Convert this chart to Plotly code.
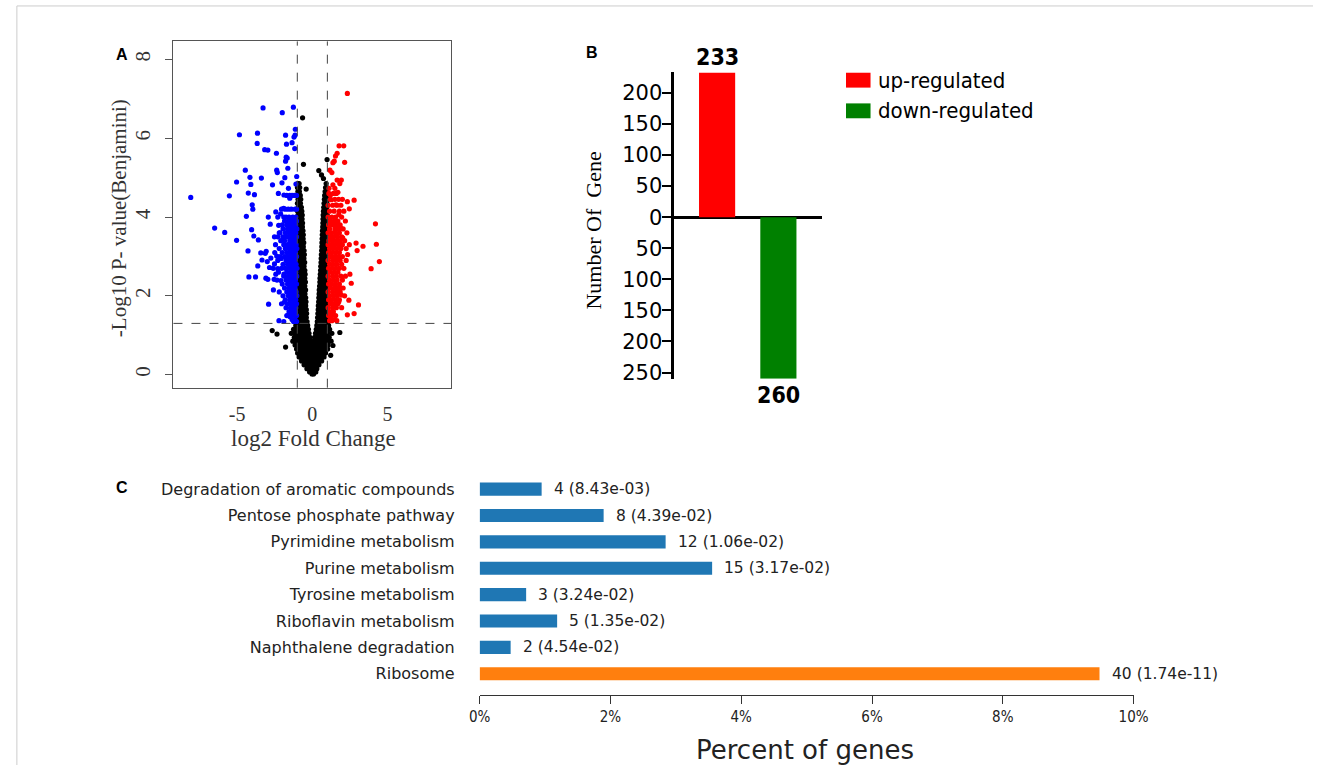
import plotly.graph_objects as go

W, H = 1328, 771

# ---------------- Panel A: volcano plot data (log2FC, -log10 adj p) ----------------
down_pts = [
    (-8.09, 4.50), (-6.50, 3.72), (-5.83, 3.61), (-5.52, 4.54), (-5.04, 4.89), (-5.04, 3.41),
    (-4.85, 6.09), (-4.46, 5.19), (-4.39, 4.02), (-4.28, 3.14), (-4.26, 4.61), (-4.22, 2.48),
    (-4.15, 5.01), (-4.09, 4.83), (-4.04, 3.68), (-4.00, 4.31), (-3.96, 4.20), (-3.89, 3.52),
    (-3.85, 4.57), (-3.78, 2.48), (-3.65, 6.13), (-3.67, 5.87), (-3.59, 3.42), (-3.63, 2.76),
    (-3.43, 3.09), (-3.39, 4.99), (-3.35, 2.91), (-3.28, 6.77), (-3.17, 5.71), (-3.13, 3.08),
    (-3.07, 3.13), (-3.09, 2.45), (-3.00, 2.87), (-2.96, 5.70), (-2.96, 2.42), (-2.93, 4.00),
    (-2.91, 1.79), (-2.85, 2.72), (-2.80, 3.82), (-2.76, 2.96), (-2.65, 4.82), (-2.59, 2.15),
    (-2.54, 2.42), (-2.52, 3.50), (-2.52, 2.81), (-2.43, 4.13), (-2.43, 2.55), (-2.39, 5.62),
    (-2.37, 5.19), (-2.37, 3.01), (-2.33, 5.13), (-2.30, 2.69), (-2.24, 3.79), (-2.22, 1.37),
    (-2.26, 4.60), (-2.15, 3.60), (-2.11, 4.08), (-2.09, 2.39), (-2.07, 2.95), (-2.00, 6.65),
    (-2.02, 4.87), (-1.96, 3.50), (-1.91, 4.22), (-1.89, 4.56), (-1.89, 2.55), (-1.85, 1.84),
    (-1.83, 5.00), (-1.78, 6.08), (-1.78, 5.42), (-1.72, 5.85), (-1.74, 5.52), (-1.67, 5.50),
    (-1.63, 5.24), (-1.59, 4.73), (-1.57, 1.52), (-1.50, 4.48), (-1.48, 1.47), (-1.46, 3.45),
    (-1.39, 3.89), (-1.35, 5.89), (-1.26, 6.79), (-1.22, 6.03), (-1.15, 6.08), (-1.13, 6.23),
    (-1.17, 5.74), (-1.09, 4.84), (-1.04, 5.03),
]
down_rows = [
    (4.55, [-1.70, -1.50, -1.35, -1.20, -1.05]),
    (4.20, [-2.05, -1.80, -1.60, -1.40, -1.15, -1.05]),
    (4.00, [-2.30, -1.90, -1.75, -1.55, -1.30, -1.10]),
    (3.90, [-1.85, -1.60, -1.45, -1.25, -1.05]),
    (3.80, [-2.00, -1.70, -1.50, -1.35, -1.20, -1.10]),
    (3.70, [-1.95, -1.65, -1.45, -1.30, -1.15, -1.03]),
    (3.60, [-2.20, -1.80, -1.55, -1.40, -1.25, -1.10]),
    (3.50, [-2.30, -1.75, -1.60, -1.35, -1.20, -1.05]),
    (3.40, [-2.10, -1.85, -1.50, -1.30, -1.15]),
    (3.30, [-2.45, -1.90, -1.65, -1.45, -1.25, -1.08]),
    (3.20, [-2.20, -1.80, -1.55, -1.35, -1.18, -1.03]),
    (3.10, [-2.50, -2.00, -1.70, -1.48, -1.28, -1.12]),
    (3.00, [-2.15, -1.85, -1.60, -1.40, -1.20, -1.05]),
    (2.90, [-2.30, -1.75, -1.50, -1.32, -1.15]),
    (2.80, [-1.95, -1.65, -1.45, -1.25, -1.08]),
    (2.70, [-2.60, -2.05, -1.80, -1.55, -1.35, -1.15, -1.02]),
    (2.60, [-2.25, -1.70, -1.45, -1.25, -1.10]),
    (2.50, [-1.90, -1.60, -1.38, -1.18, -1.04]),
    (2.40, [-2.35, -1.75, -1.50, -1.30, -1.12]),
    (2.30, [-2.00, -1.65, -1.42, -1.20, -1.05]),
    (2.20, [-1.85, -1.55, -1.33, -1.15]),
    (2.10, [-2.20, -1.70, -1.45, -1.25, -1.08]),
    (2.00, [-1.95, -1.60, -1.38, -1.15, -1.03]),
    (1.90, [-1.80, -1.50, -1.28, -1.10]),
    (1.80, [-2.05, -1.65, -1.40, -1.20, -1.05]),
    (1.70, [-1.75, -1.45, -1.25, -1.10]),
    (1.60, [-1.55, -1.30, -1.12]),
    (1.50, [-1.70, -1.40, -1.18, -1.05]),
    (1.40, [-1.35, -1.15]),
    (1.35, [-1.90, -1.25, -1.05]),
]

up_pts = [
    (2.33, 7.14), (1.78, 5.81), (2.09, 5.81), (1.65, 5.62), (1.54, 5.55), (1.46, 5.42),
    (1.37, 5.38), (2.15, 5.39), (1.17, 5.19), (1.30, 5.13), (1.93, 4.94), (1.65, 4.94),
    (1.83, 4.85), (1.37, 4.82), (1.50, 4.73), (1.11, 4.73), (1.70, 4.63), (1.20, 4.56),
    (2.33, 4.39), (2.78, 4.43), (2.46, 4.21), (1.57, 4.31), (1.26, 4.44), (1.76, 4.06),
    (4.20, 3.83), (1.41, 3.85), (1.89, 3.72), (1.15, 3.81), (1.63, 3.55), (2.02, 3.47),
    (2.91, 3.34), (3.37, 3.26), (4.26, 3.31), (2.46, 3.30), (2.98, 3.15), (2.35, 3.05),
    (1.35, 3.22), (4.46, 2.87), (3.91, 2.69), (2.50, 2.55), (2.59, 2.32), (1.85, 2.21),
    (1.93, 2.02), (1.76, 1.85), (2.43, 1.89), (3.07, 1.77), (2.78, 1.55), (2.33, 1.52),
    (1.63, 1.37), (1.15, 1.37), (1.30, 1.37),
]
up_rows = [
    (4.60, [1.10, 1.40, 1.60]),
    (4.45, [1.20, 1.50, 1.75, 2.00]),
    (4.30, [1.05, 1.35, 1.65, 1.90]),
    (4.15, [1.15, 1.45, 1.80, 2.10]),
    (4.00, [1.05, 1.30, 1.55, 1.95]),
    (3.90, [1.20, 1.45, 1.70, 2.20]),
    (3.80, [1.08, 1.35, 1.60, 1.85]),
    (3.70, [1.15, 1.50, 1.75, 2.05]),
    (3.60, [1.05, 1.30, 1.55, 1.80, 2.30]),
    (3.50, [1.20, 1.42, 1.68, 1.95]),
    (3.40, [1.10, 1.35, 1.60, 1.85, 2.15]),
    (3.30, [1.05, 1.25, 1.50, 1.75, 2.00]),
    (3.20, [1.15, 1.40, 1.65, 1.90, 2.25]),
    (3.10, [1.08, 1.30, 1.55, 1.80]),
    (3.00, [1.20, 1.45, 1.70, 2.00]),
    (2.90, [1.05, 1.35, 1.60, 1.85, 2.25]),
    (2.80, [1.15, 1.40, 1.65, 1.95]),
    (2.70, [1.08, 1.30, 1.55, 1.80, 2.10]),
    (2.60, [1.20, 1.45, 1.70]),
    (2.50, [1.05, 1.35, 1.60, 1.90, 2.20]),
    (2.40, [1.15, 1.40, 1.65, 2.00]),
    (2.30, [1.08, 1.30, 1.55, 1.80]),
    (2.20, [1.20, 1.45, 1.70, 2.05]),
    (2.10, [1.05, 1.35, 1.60, 1.85]),
    (2.00, [1.15, 1.40, 1.65, 2.15]),
    (1.90, [1.08, 1.30, 1.55, 1.80]),
    (1.80, [1.20, 1.45, 1.70]),
    (1.70, [1.05, 1.35, 1.60, 1.95]),
    (1.60, [1.15, 1.40]),
    (1.50, [1.08, 1.30, 1.55]),
    (1.40, [1.20, 1.45]),
]

ns_pts = [
    (-0.65, 6.52), (-0.59, 5.34), (-0.41, 4.71), (0.98, 5.46), (0.43, 5.18), (0.61, 5.07),
    (0.74, 4.98), (-2.67, 1.12), (-2.35, 1.03), (-1.78, 0.70), (1.83, 1.07), (1.22, 0.49),
    (1.37, 0.74),
]
ns_rows = [
    (4.85, [-0.97, -0.88, 0.92]),
    (4.75, [-0.99, -0.90, -0.84, 0.88, 0.97]),
    (4.65, [-0.96, -0.86, 0.85, 0.95]),
    (4.55, [-0.98, -0.88, -0.80, 0.82, 0.92, 0.99]),
    (4.45, [-0.95, -0.85, -0.77, 0.80, 0.90, 0.98]),
    (4.35, [-0.99, -0.89, -0.79, 0.78, 0.88, 0.97]),
    (4.25, [-0.94, -0.84, -0.73, 0.76, 0.86, 0.95]),
    (4.15, [-0.98, -0.88, -0.78, -0.70, 0.74, 0.84, 0.94]),
    (4.05, [-0.95, -0.84, -0.74, -0.67, 0.72, 0.82, 0.92, 0.99]),
    (3.95, [-0.99, -0.89, -0.78, -0.68, 0.71, 0.80, 0.90, 0.98]),
    (3.85, [-0.94, -0.84, -0.74, -0.65, 0.70, 0.79, 0.88, 0.97]),
    (3.75, [-0.98, -0.88, -0.77, -0.66, 0.69, 0.78, 0.87, 0.96]),
    (3.65, [-0.95, -0.84, -0.73, -0.62, 0.67, 0.76, 0.86, 0.95]),
    (3.55, [-0.99, -0.89, -0.78, -0.67, -0.60, 0.66, 0.75, 0.85, 0.94]),
    (3.45, [-0.94, -0.83, -0.72, -0.61, 0.65, 0.74, 0.84, 0.93, 0.99]),
    (3.35, [-0.98, -0.87, -0.76, -0.65, -0.57, 0.64, 0.73, 0.83, 0.92]),
    (3.25, [-0.93, -0.82, -0.71, -0.60, 0.63, 0.72, 0.82, 0.91, 0.98]),
    (3.15, [-0.99, -0.88, -0.77, -0.66, -0.55, 0.62, 0.71, 0.80, 0.90]),
    (3.05, [-0.94, -0.83, -0.72, -0.61, -0.53, 0.60, 0.69, 0.79, 0.88, 0.97]),
    (2.95, [-0.98, -0.87, -0.76, -0.65, -0.56, 0.59, 0.68, 0.78, 0.87, 0.96]),
    (2.85, [-0.93, -0.82, -0.71, -0.60, -0.51, 0.58, 0.67, 0.77, 0.86, 0.95]),
    (2.75, [-0.99, -0.88, -0.77, -0.66, -0.55, 0.56, 0.65, 0.75, 0.85, 0.94]),
    (2.65, [-0.94, -0.83, -0.72, -0.61, -0.50, 0.55, 0.64, 0.74, 0.84, 0.93, 0.99]),
    (2.55, [-0.98, -0.87, -0.76, -0.65, -0.54, -0.48, 0.53, 0.62, 0.72, 0.82, 0.92]),
    (2.45, [-0.93, -0.82, -0.71, -0.60, -0.50, 0.51, 0.60, 0.70, 0.80, 0.90, 0.98]),
    (2.35, [-0.99, -0.88, -0.77, -0.66, -0.55, -0.46, 0.50, 0.59, 0.69, 0.79, 0.89]),
    (2.25, [-0.94, -0.83, -0.72, -0.61, -0.50, 0.48, 0.57, 0.67, 0.77, 0.87, 0.97]),
    (2.15, [-0.98, -0.87, -0.76, -0.65, -0.54, -0.45, 0.46, 0.55, 0.65, 0.75, 0.85, 0.95]),
    (2.05, [-0.93, -0.82, -0.71, -0.60, -0.49, 0.45, 0.54, 0.64, 0.74, 0.84, 0.94]),
    (1.95, [-0.99, -0.88, -0.77, -0.66, -0.55, -0.44, 0.43, 0.52, 0.62, 0.72, 0.82, 0.92, 0.99]),
    (1.85, [-0.94, -0.83, -0.72, -0.61, -0.50, -0.42, 0.42, 0.51, 0.61, 0.71, 0.81, 0.91]),
    (1.75, [-0.98, -0.87, -0.76, -0.65, -0.54, -0.44, 0.40, 0.49, 0.59, 0.69, 0.79, 0.89, 0.98]),
    (1.65, [-0.93, -0.82, -0.71, -0.60, -0.49, -0.40, 0.39, 0.48, 0.58, 0.68, 0.78, 0.88, 0.97]),
    (1.55, [-0.99, -0.88, -0.77, -0.66, -0.55, -0.44, -0.38, 0.37, 0.46, 0.56, 0.66, 0.76, 0.86, 0.96]),
    (1.45, [-0.94, -0.83, -0.72, -0.61, -0.50, -0.40, 0.35, 0.44, 0.54, 0.64, 0.74, 0.84, 0.94]),
    (1.35, [-0.98, -0.87, -0.76, -0.65, -0.54, -0.43, -0.35, 0.33, 0.42, 0.52, 0.62, 0.72, 0.82, 0.92, 0.99]),
    (1.25, [-1.10, -0.93, -0.82, -0.71, -0.60, -0.49, -0.38, -0.31, 0.30, 0.39, 0.49, 0.59, 0.69, 0.79, 0.89, 0.99, 1.08]),
    (1.15, [-1.25, -0.99, -0.88, -0.77, -0.66, -0.55, -0.44, -0.33, -0.26, 0.26, 0.35, 0.45, 0.55, 0.65, 0.75, 0.85, 0.95, 1.15]),
    (1.05, [-1.40, -1.15, -1.00, -0.89, -0.78, -0.67, -0.56, -0.45, -0.34, -0.22, 0.21, 0.31, 0.41, 0.51, 0.61, 0.71, 0.81, 0.91, 1.02, 1.30]),
    (0.95, [-1.20, -1.05, -0.93, -0.82, -0.71, -0.60, -0.49, -0.38, -0.27, -0.16, 0.15, 0.25, 0.35, 0.45, 0.55, 0.65, 0.75, 0.86, 0.98, 1.12]),
    (0.85, [-1.30, -1.10, -0.97, -0.86, -0.75, -0.64, -0.53, -0.42, -0.31, -0.20, -0.09, 0.02, 0.12, 0.22, 0.32, 0.42, 0.52, 0.62, 0.72, 0.83, 0.95, 1.08, 1.25]),
    (0.75, [-1.15, -1.00, -0.89, -0.78, -0.67, -0.56, -0.45, -0.34, -0.23, -0.12, -0.01, 0.10, 0.20, 0.30, 0.40, 0.50, 0.60, 0.70, 0.81, 0.93, 1.05]),
    (0.65, [-1.05, -0.93, -0.82, -0.71, -0.60, -0.49, -0.38, -0.27, -0.16, -0.05, 0.06, 0.16, 0.26, 0.36, 0.46, 0.56, 0.66, 0.77, 0.89, 1.02]),
    (0.55, [-0.98, -0.86, -0.75, -0.64, -0.53, -0.42, -0.31, -0.20, -0.09, 0.02, 0.12, 0.22, 0.32, 0.42, 0.52, 0.63, 0.75, 0.88]),
    (0.45, [-0.88, -0.76, -0.65, -0.54, -0.43, -0.32, -0.21, -0.10, 0.01, 0.11, 0.21, 0.31, 0.41, 0.52, 0.64, 0.78]),
    (0.35, [-0.72, -0.60, -0.49, -0.38, -0.27, -0.16, -0.05, 0.06, 0.16, 0.26, 0.37, 0.49, 0.62]),
    (0.25, [-0.55, -0.43, -0.32, -0.21, -0.10, 0.01, 0.11, 0.21, 0.32, 0.44]),
    (0.15, [-0.36, -0.24, -0.13, -0.02, 0.09, 0.19, 0.30]),
    (0.07, [-0.18, -0.07, 0.04, 0.14, 0.23]),
    (0.02, [-0.02, 0.08]),
]

fc_cutoff = 1.0
p_cutoff = 1.301  # -log10(0.05)

# ---------------- Panel B: counts ----------------
reg_labels = ["up-regulated", "down-regulated"]
reg_counts = [233, 260]
reg_colors = ["#ff0000", "#008000"]
reg_ticks = [200, 150, 100, 50, 0, -50, -100, -150, -200, -250]

# ---------------- Panel C: KEGG enrichment ----------------
pathways = ["Degradation of aromatic compounds", "Pentose phosphate pathway",
            "Pyrimidine metabolism", "Purine metabolism", "Tyrosine metabolism",
            "Riboflavin metabolism", "Naphthalene degradation", "Ribosome"]
gene_counts = [4, 8, 12, 15, 3, 5, 2, 40]
pct_genes = [0.948, 1.896, 2.844, 3.555, 0.711, 1.185, 0.474, 9.479]
pvalues = ["8.43e-03", "4.39e-02", "1.06e-02", "3.17e-02", "3.24e-02", "1.35e-02",
           "4.54e-02", "1.74e-11"]
pct_ticks = [0, 2, 4, 6, 8, 10]


def flatten(pts, rows):
    xs = [p[0] for p in pts]
    ys = [p[1] for p in pts]
    for y, row in rows:
        for x in row:
            xs.append(x)
            ys.append(y)
    return xs, ys


def fx(px):
    return px / W


def fy(py):
    return 1 - py / H


ns_x, ns_y = flatten(ns_pts, ns_rows)
dn_x, dn_y = flatten(down_pts, down_rows)
up_x, up_y = flatten(up_pts, up_rows)

fig = go.Figure()
msize = 5.2
fig.add_trace(go.Scatter(x=ns_x, y=ns_y, mode="markers", marker=dict(color="#000000", size=msize),
                         xaxis="x", yaxis="y", showlegend=False, hoverinfo="skip"))
fig.add_trace(go.Scatter(x=dn_x, y=dn_y, mode="markers", marker=dict(color="#0000ff", size=msize),
                         xaxis="x", yaxis="y", showlegend=False))
fig.add_trace(go.Scatter(x=up_x, y=up_y, mode="markers", marker=dict(color="#ff0000", size=msize),
                         xaxis="x", yaxis="y", showlegend=False))

# Panel B bars
fig.add_trace(go.Bar(x=[1], y=[reg_counts[0]], width=0.59, marker=dict(color=reg_colors[0], line=dict(width=0)),
                     xaxis="x2", yaxis="y2", showlegend=False))
fig.add_trace(go.Bar(x=[2], y=[-reg_counts[1]], width=0.59, marker=dict(color=reg_colors[1], line=dict(width=0)),
                     xaxis="x2", yaxis="y2", showlegend=False))

# Panel C bars
c_colors = ["#ff7f0e" if p == "Ribosome" else "#1f77b4" for p in pathways]
fig.add_trace(go.Bar(x=pct_genes, y=pathways, orientation="h", width=0.5,
                     marker=dict(color=c_colors, line=dict(width=0)),
                     xaxis="x3", yaxis="y3", showlegend=False))

serif = "Liberation Serif, Times New Roman, serif"
sans = "DejaVu Sans, sans-serif"
cond = "DejaVu Sans Condensed, DejaVu Sans, sans-serif"

fig.update_layout(
    width=W, height=H, autosize=False, margin=dict(l=0, r=0, t=0, b=0),
    paper_bgcolor="white", plot_bgcolor="white", barmode="overlay",
    xaxis=dict(domain=[fx(165.7), fx(449)], range=[-9.24, 9.24], tickvals=[-5, 0, 5],
               ticktext=["-5", "0", "5"], ticks="", showgrid=False, zeroline=False,
               showline=True, mirror=True, linecolor="#555", linewidth=1, ticklabelstandoff=8,
               tickfont=dict(family=serif, size=20, color="#333")),
    yaxis=dict(domain=[fy(390.7), fy(41.7)], range=[-0.33, 8.46], tickvals=[0, 2, 4, 6, 8],
               ticks="outside", ticklen=7, tickcolor="#555", tickangle=-90, showgrid=False,
               zeroline=False, showline=True, mirror=True, linecolor="#555", linewidth=1,
               ticklabelstandoff=7,
               tickfont=dict(family=serif, size=21, color="#333")),
    xaxis2=dict(domain=[fx(676.7), fx(826.7)], range=[0.304, 2.704], visible=False),
    yaxis2=dict(domain=[fy(381.7), fy(73)], range=[-260, 233], anchor="x2",
                tickvals=reg_ticks, ticktext=[str(abs(t)) for t in reg_ticks],
                ticks="outside", ticklen=9, tickwidth=2, tickcolor="black",
                showline=True, linecolor="black", linewidth=3, showgrid=False,
                zeroline=True, zerolinecolor="black", zerolinewidth=3, ticklabelstandoff=-4,
                tickfont=dict(family=sans, size=21, color="black")),
    xaxis3=dict(domain=[fx(478), fx(1145)], range=[0, 10], tickvals=pct_ticks,
                ticktext=[f"{t}%" for t in pct_ticks], ticks="outside", ticklen=8,
                tickcolor="#333", showgrid=False,
                zeroline=False, showline=True, linecolor="#333", linewidth=1, anchor="y3",
                tickfont=dict(family=cond, size=15, color="#222")),
    yaxis3=dict(domain=[fy(700), fy(479.7)], range=[-0.79, 7.5], type="category",
                categoryorder="array", categoryarray=pathways[::-1], anchor="x3",
                ticks="", showline=False, showgrid=False, zeroline=False, ticklabelstandoff=24,
                tickfont=dict(family=sans, size=16, color="#222")),
)

anns = []
# Panel letters
for lbl, x, y in [("A", 113, 55), ("B", 593, 53), ("C", 113, 491)]:
    anns.append(dict(text=f"<b>{lbl}</b>", x=fx(x), y=fy(y), xref="paper", yref="paper",
                     showarrow=False, font=dict(family="Liberation Sans, Arial, sans-serif", size=16, color="black"),
                     xanchor="center", yanchor="middle"))
# Panel A titles
anns.append(dict(text="-Log10 P- value(Benjamini)", x=fx(110), y=fy(220), xref="paper", yref="paper",
                 textangle=-90, showarrow=False, font=dict(family=serif, size=21, color="#333"),
                 xanchor="center", yanchor="middle"))
anns.append(dict(text="log2 Fold Change", x=fx(309), y=fy(442), xref="paper", yref="paper",
                 showarrow=False, font=dict(family=serif, size=23, color="#333"),
                 xanchor="center", yanchor="middle"))
# Panel B labels
anns.append(dict(text="Number Of\u00a0\u00a0Gene", x=fx(594), y=fy(232), xref="paper", yref="paper",
                 textangle=-90, showarrow=False, font=dict(family=serif, size=22, color="black"),
                 xanchor="center", yanchor="middle"))
anns.append(dict(text=f"<b>{reg_counts[0]}</b>", x=1, y=reg_counts[0], xref="x2", yref="y2",
                 showarrow=False, yanchor="bottom", yshift=0,
                 font=dict(family=cond, size=23, color="black")))
anns.append(dict(text=f"<b>{reg_counts[1]}</b>", x=2, y=-reg_counts[1], xref="x2", yref="y2",
                 showarrow=False, yanchor="top", yshift=-1,
                 font=dict(family=cond, size=23, color="black")))
for i, (lab, col) in enumerate(zip(reg_labels, reg_colors)):
    yc = 80.8 + i * 30.9
    anns.append(dict(text=lab, x=fx(882), y=fy(yc), xref="paper", yref="paper", showarrow=False,
                     xanchor="left", yanchor="middle", font=dict(family=cond, size=22, color="black")))
# Panel C labels
for p, n, pct, pv in zip(pathways, gene_counts, pct_genes, pvalues):
    anns.append(dict(text=f"{n} ({pv})", x=pct, y=p, xref="x3", yref="y3", showarrow=False,
                     xanchor="left", yanchor="middle", xshift=10,
                     font=dict(family=sans, size=15.5, color="#222")))
anns.append(dict(text="Percent of genes", x=fx(810), y=fy(756), xref="paper", yref="paper",
                 showarrow=False, xanchor="center", yanchor="middle",
                 font=dict(family=sans, size=26, color="#222")))
fig.update_layout(annotations=anns)

shapes = []
# cut-off lines in volcano
for xv in (-fc_cutoff, fc_cutoff):
    shapes.append(dict(type="line", xref="x", yref="y domain", x0=xv, x1=xv, y0=0, y1=1,
                       line=dict(color="#444", width=1, dash="dash")))
shapes.append(dict(type="line", xref="x domain", yref="y", x0=0, x1=1, y0=p_cutoff, y1=p_cutoff,
                   line=dict(color="#444", width=1, dash="dash")))
# legend swatches panel B
for i, col in enumerate(reg_colors):
    y0 = 73.3 + i * 30.9
    shapes.append(dict(type="rect", xref="paper", yref="paper", x0=fx(851.7), x1=fx(876.7),
                       y0=fy(y0), y1=fy(y0 + 15), fillcolor=col, line=dict(width=0)))
# figure frame lines
shapes.append(dict(type="line", xref="paper", yref="paper", x0=fx(6), x1=1, y0=fy(6), y1=fy(6),
                   line=dict(color="#cccccc", width=1)))
shapes.append(dict(type="line", xref="paper", yref="paper", x0=fx(6), x1=fx(6), y0=0, y1=fy(6),
                   line=dict(color="#cccccc", width=1)))
fig.update_layout(shapes=shapes)

fig.write_html("out.html", config=dict(responsive=False, displayModeBar=False),
               post_script="document.body.style.margin='0px';document.body.style.overflow='hidden';")
